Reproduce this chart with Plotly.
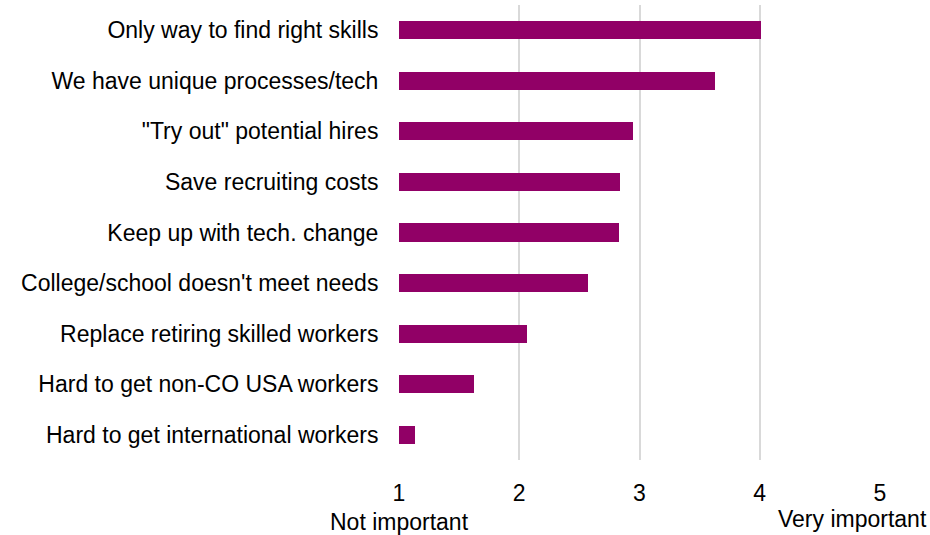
import plotly.graph_objects as go

categories = [
    "Only way to find right skills",
    "We have unique processes/tech",
    "\"Try out\" potential hires",
    "Save recruiting costs",
    "Keep up with tech. change",
    "College/school doesn't meet needs",
    "Replace retiring skilled workers",
    "Hard to get non-CO USA workers",
    "Hard to get international workers",
]
values = [4.01, 3.63, 2.95, 2.84, 2.83, 2.57, 2.065, 1.62, 1.135]
x_ticks = [1, 2, 3, 4, 5]
x_tick_labels = ["1", "2", "3", "4", "5"]
low_label = "Not important"
high_label = "Very important"

BAR_COLOR = "#910066"
FONT = dict(family="Liberation Sans, Arial, sans-serif", size=23, color="#000000")

base = 1
fig = go.Figure(
    go.Bar(
        y=categories,
        x=[v - base for v in values],
        base=base,
        orientation="h",
        width=0.36,
        marker=dict(color=BAR_COLOR, line=dict(width=0)),
        hoverinfo="skip",
    )
)

fig.update_layout(
    width=930,
    height=535,
    margin=dict(l=399, r=50, t=5, b=74.5, pad=0),
    paper_bgcolor="white",
    plot_bgcolor="white",
    font=FONT,
    showlegend=False,
    bargap=0,
)

fig.update_xaxes(
    range=[1, 5],
    tickvals=x_ticks,
    ticktext=x_tick_labels,
    showgrid=True,
    gridcolor="#d9d9d9",
    gridwidth=1.5,
    zeroline=False,
    showline=False,
    ticks="outside",
    ticklen=12,
    tickcolor="rgba(0,0,0,0)",
    tickfont=FONT,
)

fig.update_yaxes(
    categoryorder="array",
    categoryarray=categories,
    autorange="reversed",
    showgrid=False,
    zeroline=False,
    showline=False,
    ticks="outside",
    ticklen=15,
    tickcolor="rgba(0,0,0,0)",
    tickfont=FONT,
)

fig.add_annotation(
    x=1, xref="x", y=0, yref="paper",
    text=low_label, showarrow=False,
    xanchor="center", yanchor="middle", yshift=-62,
    font=FONT,
)
fig.add_annotation(
    x=5, xref="x", y=0, yref="paper",
    text=high_label, showarrow=False,
    xanchor="right", yanchor="middle", xshift=49, yshift=-59,
    font=FONT,
)

fig.write_html(
    "out.html",
    config={"displayModeBar": False},
    post_script="document.body.style.margin='0';document.body.style.overflow='hidden';",
)
